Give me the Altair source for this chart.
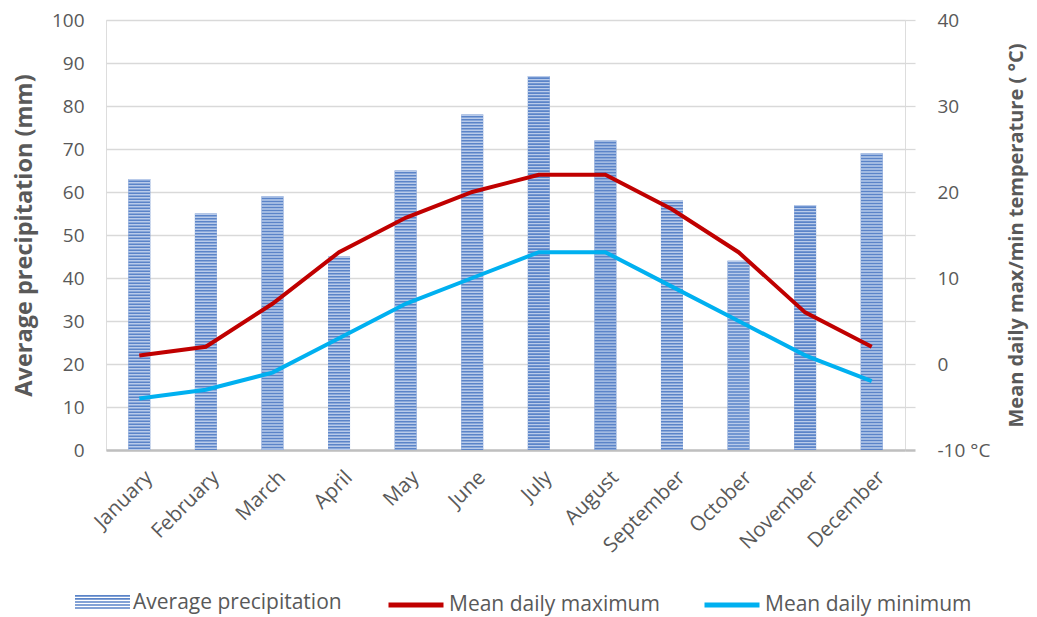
import altair as alt
import pandas as pd

months = ["January", "February", "March", "April", "May", "June", "July",
          "August", "September", "October", "November", "December"]
precip = [63, 55, 59, 45, 65, 78, 87, 72, 58, 44, 57, 69]
tmax = [1, 2, 7, 13, 17, 20, 22, 22, 18, 13, 6, 2]
tmin = [-4, -3, -1, 3, 7, 10, 13, 13, 9, 5, 1, -2]

df = pd.DataFrame({"month": months, "precip": precip, "tmax": tmax, "tmin": tmin})

FONT = "Open Sans"
GREY = "#595959"
RED = "#c00000"
BLUE = "#00b0f0"
BAR_DARK = "#5b84c8"
BAR_LIGHT = "#b9cbea"

# striped legend symbol (unit box -1..1)
STRIPES = " ".join(
    f"M-1,{-0.27 + i * 0.11:.3f}H1V{-0.27 + i * 0.11 + 0.06:.3f}H-1Z" for i in range(5)
)

x_enc = alt.X(
    "month:N", sort=months,
    scale=alt.Scale(paddingInner=0, paddingOuter=0),
    axis=alt.Axis(title=None, labelAngle=-45, labelAlign="right", labelBaseline="top",
                  labelFontSize=20.5, labelColor=GREY, labelFont=FONT, ticks=False, tickSize=0,
                  domainColor="#bfbfbf", domainWidth=2.5, labelPadding=17, labelOffset=3),
)

left_axis = alt.Axis(
    title="Average precipitation (mm)", values=list(range(0, 101, 10)), grid=True,
    gridColor="#d9d9d9", gridWidth=1.3, domain=False, ticks=False, tickSize=0,
    labelPadding=22, labelFontSize=19, labelColor=GREY, labelFont=FONT,
    titleFontSize=23.5, titleFontWeight="bold", titleColor=GREY, titleFont=FONT, titlePadding=15,
)
left_scale = alt.Scale(domain=[0, 100], nice=False)

right_axis = alt.Axis(
    orient="right", title="Mean daily max/min temperature ( °C)",
    values=list(range(-10, 41, 5)),
    labelExpr="datum.value == -10 ? '-10 °C' : (datum.value % 10 == 0 ? datum.label : '')",
    grid=False, domain=False, ticks=True, tickSize=10,
    tickColor={"condition": {"test": "datum.value == -10", "value": "#bfbfbf"}, "value": "#d9d9d9"},
    tickWidth={"condition": {"test": "datum.value == -10", "value": 2.5}, "value": 1.3},
    labelPadding=22, labelFontSize=19, labelColor=GREY, labelFont=FONT,
    titleFontSize=20, titleFontWeight="bold", titleColor=GREY, titleFont=FONT,
    titlePadding=37, titleAngle=270,
)
right_scale = alt.Scale(domain=[-10, 40], nice=False)

legend_common = dict(orient="none", title=None, labelFontSize=21, labelColor=GREY,
                     labelFont=FONT, labelOffset=3, labelLimit=400)

bars = alt.Chart(df).transform_calculate(series="'Average precipitation'").mark_bar(
    size=22
).encode(
    x=x_enc,
    y=alt.Y("precip:Q", scale=left_scale, axis=left_axis),
    fill=alt.Fill("series:N", scale=alt.Scale(range=[BAR_DARK]),
                  legend=alt.Legend(legendX=-31, legendY=555, symbolType=STRIPES,
                                    symbolSize=3025, symbolStrokeWidth=0, **legend_common)),
)

stripes = alt.Chart(df).mark_rule(strokeWidth=22, strokeDash=[1.4, 1.6], color=BAR_LIGHT).encode(
    x=x_enc,
    y=alt.Y("precip:Q", scale=left_scale, axis=left_axis),
    y2=alt.datum(0),
)

maxl = alt.Chart(df).transform_calculate(s1="'Mean daily maximum'").mark_line(
    strokeWidth=4
).encode(
    x=x_enc,
    y=alt.Y("tmax:Q", scale=right_scale, axis=right_axis),
    stroke=alt.Stroke("s1:N", scale=alt.Scale(range=[RED]),
                      legend=alt.Legend(legendX=280, legendY=555, symbolType="stroke",
                                        symbolSize=3025, symbolStrokeWidth=5, **legend_common)),
)

minl = alt.Chart(df).transform_calculate(s2="'Mean daily minimum'").mark_line(
    strokeWidth=4
).encode(
    x=x_enc,
    y=alt.Y("tmin:Q", scale=right_scale, axis=right_axis),
    stroke=alt.Stroke("s2:N", scale=alt.Scale(range=[BLUE]),
                      legend=alt.Legend(legendX=596, legendY=555, symbolType="stroke",
                                        symbolSize=3025, symbolStrokeWidth=5, **legend_common)),
)

left = alt.layer(bars, stripes)
right = alt.layer(maxl, minl).resolve_scale(stroke="independent")

chart = alt.layer(left, right).resolve_scale(y="independent", stroke="independent").properties(
    width=799, height=430,
    autosize=alt.AutoSizeParams(type="none"),
    padding={"left": 98, "top": 12, "right": 124, "bottom": 168},
).configure_view(stroke=None).configure(background="white")

chart.save("out.html", embed_options={"renderer": "svg", "actions": False})
